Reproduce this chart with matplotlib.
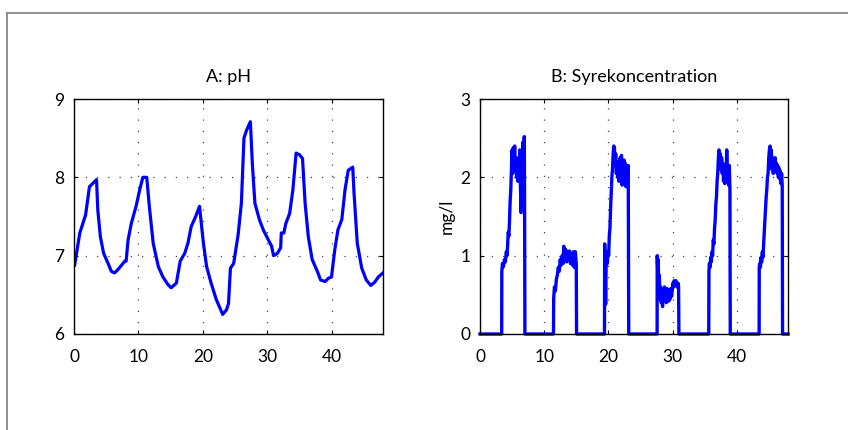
import matplotlib
matplotlib.use("Agg")
import matplotlib.pyplot as plt
from matplotlib.lines import Line2D

plt.rcParams['font.family'] = ['Lato', 'DejaVu Sans']

# A: pH over time (hours)
ph_t = [0.1, 0.9, 1.8, 2.4, 3.5, 3.7, 4.1, 4.6, 5.3, 5.8, 6.3, 6.8, 7.4, 7.9, 8.1,
        8.4, 8.9, 9.7, 10.2, 10.7, 11.3, 11.7, 12.3, 13.1, 13.8, 14.6, 15.1, 15.9,
        16.5, 17.2, 17.7, 18.2, 18.9, 19.5, 20.1, 20.6, 21.3, 22.1, 23.1, 23.7,
        24.0, 24.3, 24.8, 25.5, 26.0, 26.4, 26.8, 27.4, 27.7, 28.1, 28.8, 29.4,
        30.2, 30.7, 31.0, 31.6, 32.1, 32.2, 32.6, 32.9, 33.5, 34.0, 34.5, 35.0,
        35.5, 35.9, 36.4, 37.0, 37.8, 38.3, 39.0, 39.5, 40.0, 40.5, 41.0, 41.6,
        42.1, 42.6, 43.3, 43.5, 44.0, 44.7, 45.4, 46.1, 46.7, 47.3, 48.0]
ph_val = [6.88, 7.29, 7.52, 7.88, 7.97, 7.58, 7.24, 7.03, 6.90, 6.80, 6.78, 6.82,
          6.88, 6.93, 6.93, 7.20, 7.41, 7.65, 7.84, 8.00, 8.00, 7.63, 7.16, 6.86,
          6.73, 6.63, 6.59, 6.65, 6.93, 7.03, 7.16, 7.37, 7.50, 7.63, 7.16, 6.86,
          6.65, 6.44, 6.25, 6.31, 6.39, 6.84, 6.90, 7.27, 7.67, 8.50, 8.60, 8.71,
          8.18, 7.67, 7.46, 7.33, 7.20, 7.12, 7.00, 7.03, 7.10, 7.29, 7.29, 7.41,
          7.54, 7.84, 8.31, 8.29, 8.24, 7.67, 7.24, 6.95, 6.80, 6.69, 6.67, 6.71,
          6.73, 7.07, 7.33, 7.46, 7.84, 8.09, 8.13, 7.80, 7.16, 6.84, 6.69, 6.62,
          6.66, 6.73, 6.78]

# B: acid concentration (mg/l)
acid_t = [0.0, 3.38,
          3.40, 3.50, 3.65, 3.80, 3.95, 4.10, 4.20, 4.30, 4.40, 4.50, 4.60, 4.70,
          4.80, 4.90, 5.00, 5.10, 5.20, 5.30, 5.40, 5.50, 5.60, 5.70, 5.80, 5.90,
          6.00, 6.10, 6.20, 6.30, 6.40, 6.50, 6.60, 6.70, 6.80, 6.90, 6.95, 7.00,
          11.45,
          11.48, 11.60, 11.75, 11.90, 12.05, 12.20, 12.35, 12.50, 12.65, 12.80,
          12.95, 13.05, 13.20, 13.35, 13.50, 13.65, 13.80, 13.95, 14.10, 14.25,
          14.40, 14.55, 14.70, 14.85, 15.00, 15.05,
          19.40,
          19.43, 19.50, 19.58, 19.65, 19.75, 19.85, 19.95, 20.05, 20.15, 20.25,
          20.35, 20.45, 20.55, 20.65, 20.75, 20.85, 20.95, 21.05, 21.15, 21.25,
          21.35, 21.45, 21.55, 21.65, 21.75, 21.85, 21.95, 22.05, 22.15, 22.25,
          22.35, 22.45, 22.55, 22.65, 22.75, 22.85, 22.95, 23.10, 23.18,
          27.60,
          27.62, 27.70, 27.78, 27.85, 27.95, 28.05, 28.15, 28.25, 28.35, 28.45,
          28.55, 28.65, 28.75, 28.85, 28.95, 29.05, 29.15, 29.25, 29.35, 29.45,
          29.55, 29.65, 29.75, 29.85, 29.95, 30.05, 30.15, 30.25, 30.40, 30.55,
          30.70, 30.85, 30.95, 31.00,
          35.65,
          35.68, 35.75, 35.85, 35.95, 36.05, 36.15, 36.25, 36.35, 36.45, 36.55,
          36.65, 36.75, 36.85, 36.95, 37.05, 37.15, 37.25, 37.35, 37.45, 37.55,
          37.65, 37.75, 37.85, 37.95, 38.05, 38.15, 38.25, 38.35, 38.45, 38.55,
          38.65, 38.75, 38.85, 38.95, 39.00,
          43.50,
          43.52, 43.60, 43.70, 43.80, 43.90, 44.00, 44.10, 44.20, 44.30, 44.40,
          44.50, 44.60, 44.70, 44.80, 44.90, 45.00, 45.10, 45.20, 45.30, 45.40,
          45.50, 45.60, 45.70, 45.80, 45.90, 46.00, 46.10, 46.20, 46.30, 46.40,
          46.50, 46.60, 46.70, 46.80, 46.90, 47.00, 47.10, 47.15,
          48.0]
acid_val = [0, 0,
            0.80, 0.90, 0.86, 0.95, 0.92, 1.05, 1.00, 1.12, 1.30, 1.25, 1.45, 1.70,
            1.85, 2.10, 2.35, 2.05, 2.38, 2.15, 2.40, 2.10, 2.25, 2.00, 2.20, 1.95,
            2.25, 2.05, 2.35, 1.90, 1.55, 2.30, 2.00, 2.45, 2.10, 2.52, 1.60, 0,
            0,
            0.45, 0.60, 0.55, 0.70, 0.75, 0.85, 0.80, 0.95, 0.88, 1.00,
            0.90, 1.12, 0.95, 1.08, 0.92, 1.05, 0.95, 1.06, 0.90, 1.02,
            0.88, 1.05, 0.85, 1.05, 0.90, 0,
            0,
            1.15, 0.90, 0.38, 0.85, 1.00, 0.90, 1.05, 1.00, 1.25, 1.35,
            1.60, 1.80, 2.00, 2.10, 2.30, 2.40, 2.38, 2.15, 2.30, 2.05,
            2.20, 2.00, 2.15, 1.95, 2.10, 2.25, 2.05, 2.28, 1.90, 2.20,
            2.05, 2.22, 2.00, 2.18, 1.88, 2.15, 1.95, 2.15, 0,
            0,
            1.00, 0.80, 0.95, 0.55, 0.75, 0.45, 0.60, 0.40, 0.55, 0.35,
            0.58, 0.45, 0.60, 0.42, 0.55, 0.40, 0.58, 0.45, 0.55, 0.42,
            0.52, 0.45, 0.58, 0.48, 0.55, 0.65, 0.60, 0.68, 0.62, 0.68,
            0.60, 0.65, 0.60, 0,
            0,
            0.80, 0.90, 0.85, 0.98, 0.92, 1.05, 1.00, 1.20, 1.15, 1.35,
            1.45, 1.65, 1.75, 1.95, 2.05, 2.25, 2.35, 2.15, 2.30, 2.10,
            2.25, 2.05, 2.18, 1.95, 2.10, 1.92, 2.15, 2.00, 2.35, 2.10,
            2.05, 1.90, 2.15, 1.85, 0,
            0,
            0.85, 0.90, 0.85, 0.98, 0.92, 1.05, 0.98, 1.15, 1.30, 1.45,
            1.60, 1.75, 1.85, 2.00, 2.05, 2.25, 2.35, 2.40, 2.20, 2.35,
            2.10, 2.25, 2.05, 2.20, 2.10, 2.25, 2.08, 2.18, 2.05, 2.15,
            2.00, 2.12, 1.98, 2.08, 1.92, 2.05, 1.90, 0,
            0]

x_ticks = [0, 10, 20, 30, 40]

fig = plt.figure(figsize=(8.48, 4.30), dpi=100)

# grey frame (top and left edge only)
fig.add_artist(Line2D([6.5/848, 1.0], [1 - 12.5/430, 1 - 12.5/430],
                      color='#7f7f7f', lw=1.2, transform=fig.transFigure))
fig.add_artist(Line2D([6.5/848, 6.5/848], [0.0, 1 - 12.5/430],
                      color='#7f7f7f', lw=1.2, transform=fig.transFigure))

ax1 = fig.add_axes([74/848, 1 - 334/430, 309/848, 235/430])
ax2 = fig.add_axes([480/848, 1 - 334/430, 308/848, 235/430])


def style(ax):
    ax.set_xlim(0, 48)
    ax.set_xticks(x_ticks)
    ax.tick_params(direction='in', length=3, width=0.8, labelsize=12.5,
                   top=True, right=True)
    ax.tick_params(axis='x', pad=11)
    ax.tick_params(axis='y', pad=7)
    ax.grid(True, linestyle=(0, (1, 8)), color='#444444', linewidth=0.9)
    for s in ax.spines.values():
        s.set_linewidth(1.0)


ax1.plot(ph_t, ph_val, color='#0000ff', lw=2.3)
ax1.set_ylim(6, 9)
ax1.set_yticks([6, 7, 8, 9])
style(ax1)
ax1.set_title('A: pH', fontsize=13, pad=12)

ax2.plot(acid_t, acid_val, color='#0000ff', lw=2.4, clip_on=False)
ax2.set_ylim(0, 3)
ax2.set_yticks([0, 1, 2, 3])
style(ax2)
ax2.set_title('B: Syrekoncentration', fontsize=13, pad=12)
ax2.set_ylabel('mg/l', fontsize=12.5, labelpad=4)

fig.savefig('out.png', dpi=100)
